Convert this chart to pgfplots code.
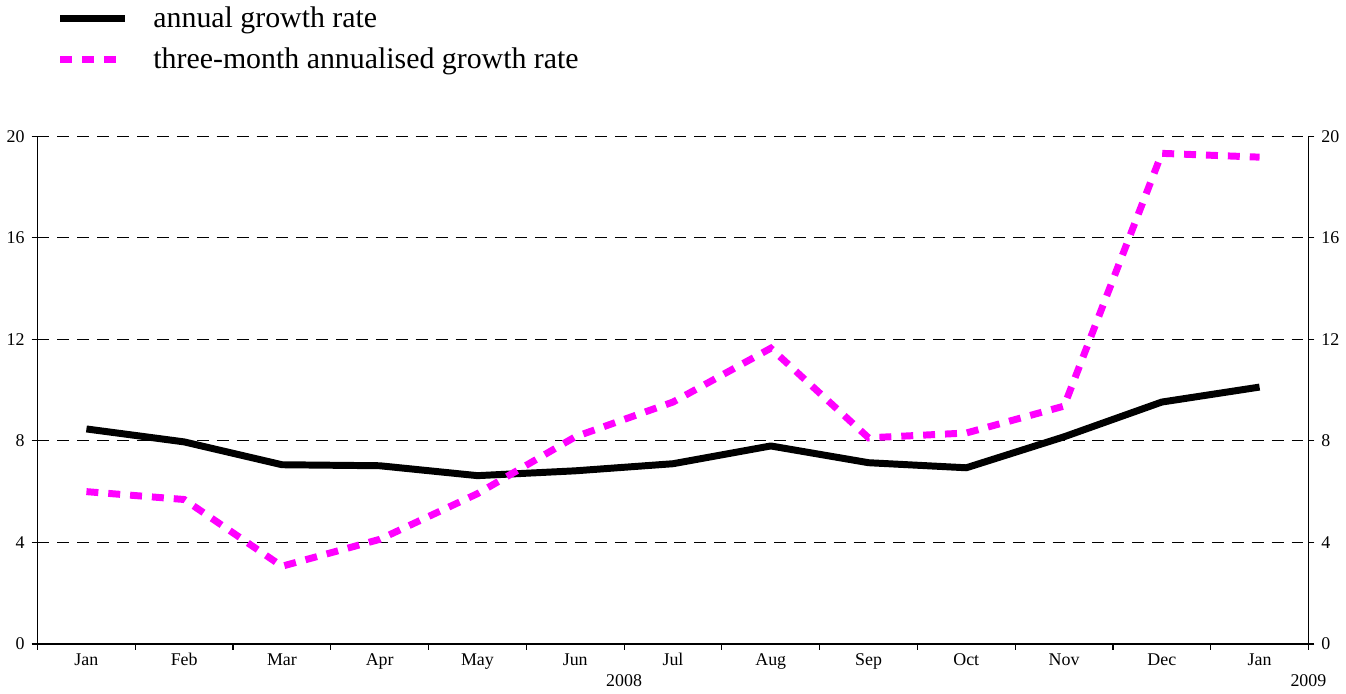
\documentclass[border=0pt]{standalone}
\usepackage{fontspec}
\setmainfont{Liberation Serif}
\usepackage{pgfplots}
\pgfplotsset{compat=1.18}
\definecolor{mag}{RGB}{255,0,255}

\pgfplotstableread{
x annual three
0 8.47 6.00
1 7.96 5.69
2 7.06 3.06
3 7.02 4.12
4 6.63 5.92
5 6.82 8.16
6 7.10 9.53
7 7.80 11.65
8 7.14 8.12
9 6.94 8.31
10 8.16 9.37
11 9.53 19.33
12 10.12 19.18
}\datatable

\begin{document}
\begin{tikzpicture}
\begin{axis}[
  scale only axis, width=638.5pt, height=255pt,
  xmin=-0.5, xmax=12.5, ymin=0, ymax=20,
  axis x line*=bottom, axis y line*=left,
  axis line style={black, line width=0.6pt},
  xtick={0,...,12},
  xticklabels={Jan,Feb,Mar,Apr,May,Jun,Jul,Aug,Sep,Oct,Nov,Dec,Jan},
  major x tick style={draw=none},
  minor xtick={-0.5,0.5,...,12.5},
  minor tick length=3pt,
  minor x tick style={black, line width=0.6pt},
  ytick={0,4,...,20},
  major tick length=3pt,
  tick align=outside,
  tick style={black, line width=0.6pt},
  ymajorgrids,
  grid style={black, line width=0.5pt, dash pattern=on 6pt off 4pt},
  tick label style={font=\fontsize{9}{10}\selectfont},
  xticklabel style={yshift=2pt, text height=1.4ex, text depth=0.25ex},
  /pgf/number format/assume math mode=true,
  clip=false,
  legend style={draw=none, fill=none, at={(0,1)}, anchor=south west,
    inner sep=0pt, xshift=9.5pt, yshift=32.5pt, font=\fontsize{15}{17}\selectfont,
    row sep=8.5pt, nodes={inner sep=0pt}, cells={anchor=west}},
  legend cell align=left,
  legend image code/.code={\draw[#1] (0pt,0pt) -- (32.5pt,0pt); \path (45pt,0pt);},
]
\addplot[black, line width=3.5pt, line join=round] table[x=x, y=annual] {\datatable};
\addlegendentry{annual growth rate}
\addplot[mag, line width=3.5pt, dash pattern=on 6pt off 5pt] table[x=x, y=three] {\datatable};
\addlegendentry{three-month annualised growth rate}
\node[anchor=north, inner sep=0pt, font=\fontsize{9}{10}\selectfont] at (axis cs:5.5,0) [yshift=-15pt] {2008};
\node[anchor=north, inner sep=0pt, font=\fontsize{9}{10}\selectfont] at (axis cs:12.5,0) [yshift=-15pt] {2009};
\end{axis}
\begin{axis}[
  scale only axis, width=638.5pt, height=255pt,
  xmin=-0.5, xmax=12.5, ymin=0, ymax=20,
  hide x axis, xtick=\empty, axis y line*=right,
  axis line style={black, line width=0.6pt},
  ytick={0,4,...,20},
  major tick length=3pt,
  tick align=outside,
  tick style={black, line width=0.6pt},
  tick label style={font=\fontsize{9}{10}\selectfont},
  /pgf/number format/assume math mode=true,
]
\end{axis}
\path ([yshift=68.5pt]current axis.north west);
\path ([yshift=-25pt]current axis.south east);
\end{tikzpicture}
\end{document}
